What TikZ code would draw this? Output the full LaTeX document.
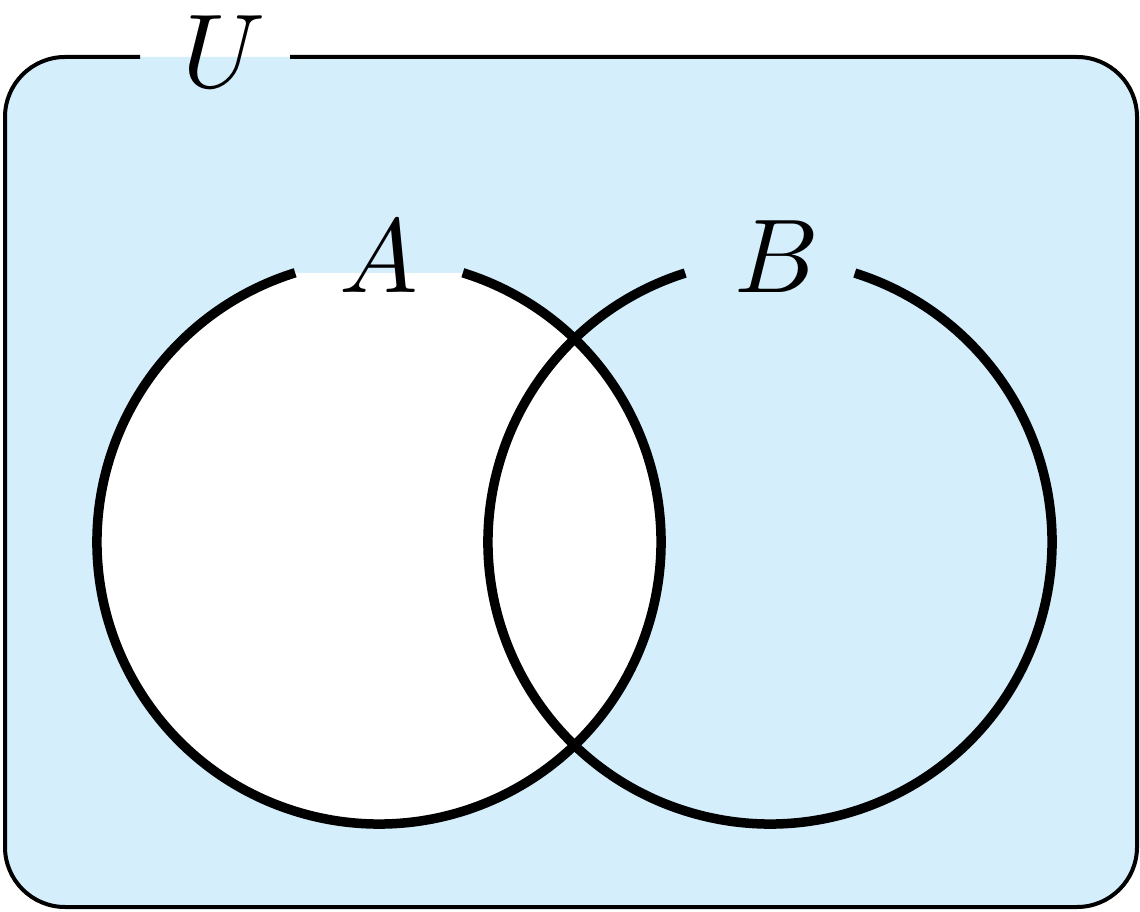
\documentclass[tikz,border=0pt]{standalone}
\definecolor{ubg}{RGB}{212,238,252}
\begin{document}
\begin{tikzpicture}[x=1pt,y=1pt,
  setline/.style={line width=9.5pt,line cap=butt},
  setlabel/.style={inner sep=0pt,anchor=base,scale=10.5,transform shape}]
\useasboundingbox (0,0) rectangle (1140,911);
\coordinate (cA) at (379,369);
\coordinate (cB) at (770,369);
% universe
\fill[ubg,rounded corners=60pt] (5,4) rectangle (1137,854);
\draw[line width=4pt,rounded corners=60pt] (290,854) -- (1137,854) -- (1137,4) -- (5,4) -- (5,854) -- (140,854);
\node[setlabel] (U) at (224,823) {$U$};
% set A
\draw[setline,fill=white] (cA) ++(72.7:282) arc[start angle=72.7,end angle=-252.7,radius=282];
% set B
\draw[setline] (cB) ++(72.5:282) arc[start angle=72.5,end angle=-252.5,radius=282];
\node[setlabel] (A) at (379,619) {$A$};
\node[setlabel] (B) at (777,619) {$B$};
\end{tikzpicture}
\end{document}
